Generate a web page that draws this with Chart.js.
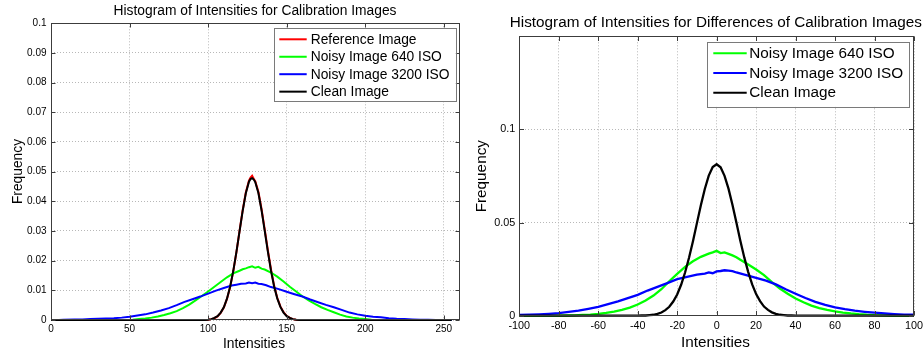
<!DOCTYPE html>
<html>
<head>
<meta charset="utf-8">
<script src="https://cdn.jsdelivr.net/npm/chart.js@4.4.1/dist/chart.umd.min.js"></script>
<style>
  html, body { margin: 0; padding: 0; background: #fff; overflow: hidden; width: 924px; height: 355px; }
  #leftChart  { position: absolute; left: 0;     top: 0; }
  #rightChart { position: absolute; left: 460px; top: 0; }
</style>
</head>
<body>
<canvas id="leftChart" width="462" height="355"></canvas>
<canvas id="rightChart" width="490" height="355"></canvas>
<script>
// ---------- Histogram of intensities (0..255) ----------
const refCleanX = [0, 98, 100, 102, 104, 106, 108, 110, 112, 114, 116, 118, 120, 122, 124, 126, 127, 128, 129, 130, 132, 134, 136, 138, 140, 142, 144, 146, 148, 150, 152, 154, 156, 158, 255];
const referenceFreq = [0, 0, 0.0001, 0.0003, 0.0006, 0.0012, 0.0024, 0.0042, 0.0071, 0.0110, 0.0164, 0.0228, 0.0300, 0.0370, 0.0430, 0.0470, 0.0480, 0.0486, 0.0476, 0.0468, 0.0432, 0.0374, 0.0306, 0.0236, 0.0171, 0.0116, 0.0075, 0.0046, 0.0026, 0.0014, 0.0007, 0.0003, 0.0001, 0, 0];
const cleanFreq = [0, 0, 0.0001, 0.0003, 0.0007, 0.0013, 0.0025, 0.0043, 0.0072, 0.0112, 0.0165, 0.0229, 0.0299, 0.0368, 0.0427, 0.0466, 0.0475, 0.0478, 0.0474, 0.0465, 0.0428, 0.0370, 0.0301, 0.0231, 0.0167, 0.0113, 0.0073, 0.0044, 0.0025, 0.0013, 0.0007, 0.0003, 0.0001, 0, 0];

const iso640X = [0, 48, 52, 56, 60, 64, 68, 72, 76, 80, 84, 88, 92, 96, 100, 104, 108, 112, 116, 120, 122, 124, 126, 128, 130, 132, 134, 136, 140, 144, 148, 152, 156, 160, 164, 168, 172, 176, 180, 184, 188, 192, 196, 200, 204, 208, 255];
const iso640Freq = [0, 0, 0.0001, 0.0003, 0.0005, 0.0008, 0.0012, 0.0017, 0.0023, 0.0030, 0.0040, 0.0052, 0.0066, 0.0081, 0.0096, 0.0112, 0.0128, 0.0144, 0.0157, 0.0166, 0.0171, 0.0174, 0.0178, 0.0181, 0.0176, 0.0179, 0.0173, 0.0170, 0.0160, 0.0146, 0.0130, 0.0112, 0.0096, 0.0080, 0.0066, 0.0054, 0.0043, 0.0034, 0.0026, 0.0018, 0.0012, 0.0008, 0.0005, 0.0003, 0.0001, 0, 0];

const iso3200X = [0, 5, 8, 15, 20, 25, 30, 35, 40, 45, 50, 55, 60, 65, 70, 75, 80, 85, 90, 95, 100, 105, 110, 115, 118, 121, 124, 126, 128, 130, 132, 134, 137, 140, 145, 150, 155, 160, 165, 170, 175, 180, 185, 190, 195, 200, 205, 210, 215, 220, 225, 230, 235, 240, 245, 255];
const iso3200Freq = [0, 0, 0.0001, 0.0002, 0.0002, 0.0003, 0.0004, 0.0005, 0.0006, 0.0008, 0.0011, 0.0015, 0.0019, 0.0025, 0.0032, 0.0040, 0.0050, 0.0061, 0.0070, 0.0079, 0.0089, 0.0099, 0.0108, 0.0116, 0.0119, 0.0122, 0.0123, 0.0126, 0.0124, 0.0126, 0.0122, 0.0121, 0.0117, 0.0111, 0.0104, 0.0095, 0.0087, 0.0079, 0.0069, 0.0060, 0.0051, 0.0043, 0.0034, 0.0025, 0.0019, 0.0014, 0.0011, 0.0009, 0.0006, 0.0004, 0.0003, 0.0002, 0.0001, 0.0001, 0, 0];

const intensityTicks = [0, 50, 100, 150, 200, 250];
const intensityTickLabels = ['0', '50', '100', '150', '200', '250'];
const freqTicks = [0, 0.01, 0.02, 0.03, 0.04, 0.05, 0.06, 0.07, 0.08, 0.09, 0.1];
const freqTickLabels = ['0', '0.01', '0.02', '0.03', '0.04', '0.05', '0.06', '0.07', '0.08', '0.09', '0.1'];

// ---------- Histogram of differences (-100..100) ----------
const diffCleanX = [-100, -40, -38, -36, -34, -32, -30, -28, -26, -24, -22, -20, -18, -16, -14, -12, -10, -8, -6, -4, -2, 0, 2, 4, 6, 8, 10, 12, 14, 16, 18, 20, 22, 24, 26, 28, 30, 32, 34, 36, 38, 40, 100];
const diffCleanFreq = [0, 0, 0.0001, 0.0001, 0.0003, 0.0005, 0.0010, 0.0017, 0.0030, 0.0048, 0.0076, 0.0114, 0.0166, 0.0232, 0.0311, 0.0400, 0.0497, 0.0593, 0.0680, 0.0752, 0.0798, 0.0813, 0.0797, 0.0751, 0.0682, 0.0596, 0.0500, 0.0403, 0.0313, 0.0234, 0.0168, 0.0116, 0.0078, 0.0049, 0.0031, 0.0018, 0.0010, 0.0005, 0.0003, 0.0001, 0.0001, 0, 0];

const diff640X = [-100, -80, -76, -72, -68, -64, -60, -56, -52, -48, -44, -40, -36, -32, -28, -24, -20, -16, -12, -8, -4, -2, 0, 2, 4, 6, 8, 10, 12, 16, 20, 24, 28, 32, 36, 40, 44, 48, 52, 56, 60, 64, 68, 72, 76, 80, 84, 88, 92, 100];
const diff640Freq = [0, 0, 0.0001, 0.0002, 0.0004, 0.0006, 0.0010, 0.0015, 0.0022, 0.0031, 0.0043, 0.0060, 0.0082, 0.0108, 0.0142, 0.0185, 0.0225, 0.0262, 0.0292, 0.0316, 0.0333, 0.0340, 0.0348, 0.0336, 0.0340, 0.0332, 0.0324, 0.0314, 0.0300, 0.0275, 0.0248, 0.0218, 0.0180, 0.0146, 0.0118, 0.0092, 0.0072, 0.0054, 0.0041, 0.0031, 0.0023, 0.0017, 0.0012, 0.0008, 0.0005, 0.0003, 0.0002, 0.0001, 0, 0];

const diff3200X = [-100, -95, -90, -85, -80, -75, -70, -65, -60, -55, -50, -45, -40, -35, -30, -25, -20, -15, -10, -6, -4, -2, 0, 2, 4, 6, 8, 10, 15, 20, 25, 30, 35, 40, 45, 50, 55, 60, 65, 70, 75, 80, 85, 90, 95, 100];
const diff3200Freq = [0.0004, 0.0005, 0.0007, 0.0010, 0.0014, 0.0020, 0.0027, 0.0037, 0.0048, 0.0062, 0.0077, 0.0094, 0.0112, 0.0135, 0.0155, 0.0175, 0.0196, 0.0209, 0.0220, 0.0226, 0.0232, 0.0228, 0.0238, 0.0240, 0.0244, 0.0242, 0.0239, 0.0232, 0.0218, 0.0203, 0.0188, 0.0168, 0.0142, 0.0118, 0.0095, 0.0074, 0.0058, 0.0045, 0.0035, 0.0027, 0.0021, 0.0016, 0.0012, 0.0009, 0.0006, 0.0005];

const diffTicks = [-100, -80, -60, -40, -20, 0, 20, 40, 60, 80, 100];
const diffTickLabels = ['-100', '-80', '-60', '-40', '-20', '0', '20', '40', '60', '80', '100'];
const diffFreqTicks = [0, 0.05, 0.1];
const diffFreqTickLabels = ['0', '0.05', '0.1'];

const FONT = '"Liberation Sans", Arial, Helvetica, sans-serif';

function toPoints(xs, ys) {
  return xs.map((x, i) => ({ x: x, y: ys[i] }));
}

function series(label, color, xs, ys, order, width) {
  return {
    label: label,
    data: toPoints(xs, ys),
    borderColor: color,
    backgroundColor: color,
    borderWidth: width,
    pointRadius: 0,
    tension: 0,
    fill: false,
    order: order,
    clip: 3
  };
}

// Draws the boxed axes with inward ticks, the boxed legend and the texts.
const boxedAxes = {
  id: 'boxedAxes',
  afterDraw(chart, args, o) {
    const ctx = chart.ctx;
    const a = chart.chartArea;
    const sx = chart.scales.x, sy = chart.scales.y;
    ctx.save();

    // frame and tick marks
    ctx.setLineDash([]);
    ctx.strokeStyle = o.axisColor;
    ctx.lineWidth = 1;
    const L = Math.round(a.left) + 0.5, R = Math.round(a.right) - 0.5;
    const T = Math.round(a.top) + 0.5, B = Math.round(a.bottom) - 0.5;
    ctx.strokeRect(L, T, R - L, B - T);
    ctx.beginPath();
    o.xTicks.forEach(v => {
      const px = Math.round(sx.getPixelForValue(v)) + 0.5;
      ctx.moveTo(px, B); ctx.lineTo(px, B - o.tickLen);
      ctx.moveTo(px, T); ctx.lineTo(px, T + o.tickLen);
    });
    o.yTicks.forEach(v => {
      const py = Math.round(sy.getPixelForValue(v)) + 0.5;
      ctx.moveTo(L, py); ctx.lineTo(L + o.tickLen, py);
      ctx.moveTo(R, py); ctx.lineTo(R - o.tickLen, py);
    });
    ctx.stroke();

    // legend
    const lg = o.legend;
    ctx.fillStyle = '#ffffff';
    ctx.fillRect(lg.x, lg.y, lg.w, lg.h);
    ctx.strokeStyle = lg.border;
    ctx.strokeRect(Math.round(lg.x) + 0.5, Math.round(lg.y) + 0.5, Math.round(lg.w), Math.round(lg.h));
    ctx.font = o.textSize + 'px ' + FONT;
    ctx.textAlign = 'left';
    ctx.textBaseline = 'middle';
    chart.data.datasets.forEach((ds, i) => {
      const yy = lg.firstRow + i * lg.rowGap;
      ctx.strokeStyle = ds.borderColor;
      ctx.lineWidth = 2;
      ctx.beginPath();
      ctx.moveTo(lg.sample0, yy); ctx.lineTo(lg.sample1, yy);
      ctx.stroke();
      ctx.fillStyle = '#000000';
      ctx.fillText(ds.label, lg.textX, yy + 0.5);
    });

    // title and axis titles
    ctx.fillStyle = '#000000';
    ctx.textAlign = 'center';
    ctx.textBaseline = 'alphabetic';
    ctx.font = o.textSize + 'px ' + FONT;
    ctx.fillText(o.title, o.titlePos[0], o.titlePos[1]);
    ctx.fillText(o.xTitle, o.xTitlePos[0], o.xTitlePos[1]);
    ctx.translate(o.yTitlePos[0], o.yTitlePos[1]);
    ctx.rotate(-Math.PI / 2);
    ctx.fillText(o.yTitle, 0, 0);
    ctx.restore();
  }
};

function buildOptions(cfg) {
  return {
    responsive: false,
    animation: false,
    events: [],
    layout: { padding: { top: cfg.padTop, right: cfg.padRight, left: 0, bottom: 0 } },
    plugins: {
      legend: { display: false },
      title: { display: false },
      tooltip: { enabled: false },
      boxedAxes: cfg.frame
    },
    scales: {
      x: {
        type: 'linear',
        min: cfg.xMin, max: cfg.xMax,
        afterBuildTicks: s => { s.ticks = cfg.xTicks.map(v => ({ value: v })); },
        afterFit: s => { s.height = cfg.xAxisHeight; },
        ticks: {
          callback: (v, i) => cfg.xLabels[i],
          color: '#000', font: { family: FONT, size: cfg.tickSize },
          padding: cfg.xTickPad, maxRotation: 0, autoSkip: false
        },
        grid: { color: '#b8b8b8', lineWidth: 1, drawTicks: false },
        border: { display: false, dash: [1, 2] }
      },
      y: {
        type: 'linear',
        min: 0, max: cfg.yMax,
        afterBuildTicks: s => { s.ticks = cfg.yTicks.map(v => ({ value: v })); },
        afterFit: s => { s.width = cfg.yAxisWidth; },
        ticks: {
          callback: (v, i) => cfg.yLabels[i],
          color: '#000', font: { family: FONT, size: cfg.tickSize },
          padding: cfg.yTickPad, autoSkip: false
        },
        grid: { color: '#b8b8b8', lineWidth: 1, drawTicks: false },
        border: { display: false, dash: [1, 2] }
      }
    }
  };
}

new Chart(document.getElementById('leftChart'), {
  type: 'line',
  data: {
    datasets: [
      series('Reference Image', '#ff0000', refCleanX, referenceFreq, 3, 2),
      series('Noisy Image 640 ISO', '#00ff00', iso640X, iso640Freq, 2, 2),
      series('Noisy Image 3200 ISO', '#0000ff', iso3200X, iso3200Freq, 1, 2),
      series('Clean Image', '#000000', refCleanX, cleanFreq, 0, 2)
    ]
  },
  options: buildOptions({
    padTop: 23.3, padRight: 2.5, xAxisHeight: 35, yAxisWidth: 51,
    xMin: 0, xMax: 260, yMax: 0.1,
    xTicks: intensityTicks, xLabels: intensityTickLabels,
    yTicks: freqTicks, yLabels: freqTickLabels,
    tickSize: 10, xTickPad: 3, yTickPad: 4.5,
    frame: {
      axisColor: '#3c3c3c', tickLen: 4, textSize: 13.8,
      xTicks: intensityTicks, yTicks: freqTicks,
      title: 'Histogram of Intensities for Calibration Images', titlePos: [255, 14.5],
      xTitle: 'Intensities', xTitlePos: [254, 347.5],
      yTitle: 'Frequency', yTitlePos: [21.7, 171.5],
      legend: { x: 274, y: 28.3, w: 181.7, h: 73.4, border: '#7a7a7a',
                firstRow: 39.3, rowGap: 17.45, sample0: 279.3, sample1: 306.7, textX: 310.7 }
    }
  }),
  plugins: [boxedAxes]
});

new Chart(document.getElementById('rightChart'), {
  type: 'line',
  data: {
    datasets: [
      series('Noisy Image 640 ISO', '#00ff00', diff640X, diff640Freq, 2, 2.3),
      series('Noisy Image 3200 ISO', '#0000ff', diff3200X, diff3200Freq, 1, 2.3),
      series('Clean Image', '#000000', diffCleanX, diffCleanFreq, 0, 2.3)
    ]
  },
  options: buildOptions({
    padTop: 36.3, padRight: 36, xAxisHeight: 39.3, yAxisWidth: 59.3,
    xMin: -100, xMax: 100, yMax: 0.15,
    xTicks: diffTicks, xLabels: diffTickLabels,
    yTicks: diffFreqTicks, yLabels: diffFreqTickLabels,
    tickSize: 10.8, xTickPad: 3.5, yTickPad: 4,
    frame: {
      axisColor: '#3c3c3c', tickLen: 4.5, textSize: 15.3,
      xTicks: diffTicks, yTicks: diffFreqTicks,
      title: 'Histogram of Intensities for Differences of Calibration Images', titlePos: [255.8, 26.7],
      xTitle: 'Intensities', xTitlePos: [255.5, 346.7],
      yTitle: 'Frequency', yTitlePos: [25.5, 176.2],
      legend: { x: 247.3, y: 41.7, w: 202, h: 65, border: '#7a7a7a',
                firstRow: 53.3, rowGap: 19.7, sample0: 253.3, sample1: 286.7, textX: 289.3 }
    }
  }),
  plugins: [boxedAxes]
});
</script>
</body>
</html>
